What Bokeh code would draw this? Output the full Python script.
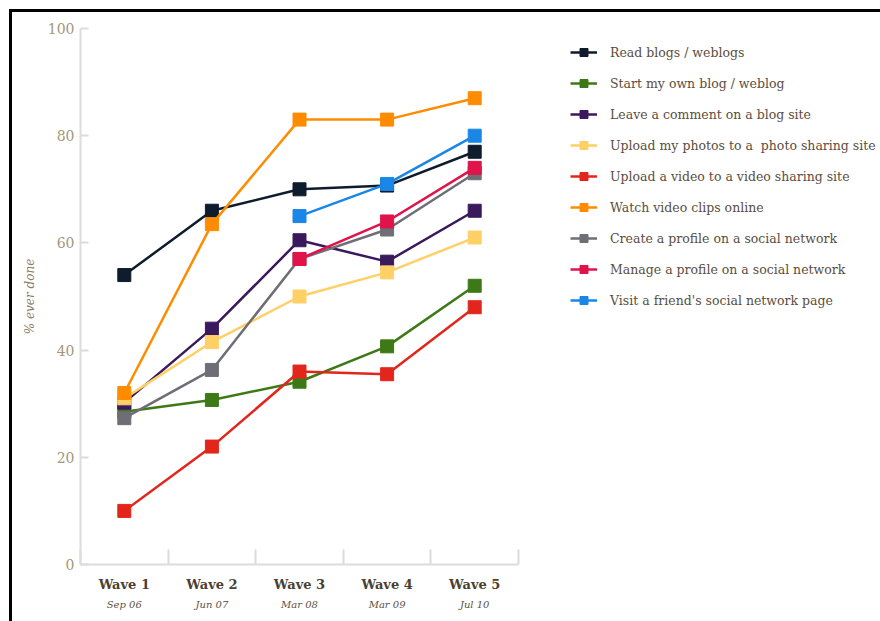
import math
from bokeh.plotting import figure
from bokeh.models import Legend, LegendItem, LinearAxis, FixedTicker, Range1d
from bokeh.embed import file_html
from bokeh.resources import INLINE

waves = ["Wave 1", "Wave 2", "Wave 3", "Wave 4", "Wave 5"]
dates = ["Sep 06", "Jun 07", "Mar 08", "Mar 09", "Jul 10"]
x_pos = [1, 2, 3, 4, 5]
nan = float("nan")

series_names = [
    "Read blogs / weblogs",
    "Start my own blog / weblog",
    "Leave a comment on a blog site",
    "Upload my photos to a  photo sharing site",
    "Upload a video to a video sharing site",
    "Watch video clips online",
    "Create a profile on a social network",
    "Manage a profile on a social network",
    "Visit a friend's social network page",
]
read_blogs = [54, 66, 70, 70.7, 77]
start_blog = [28.5, 30.7, 34.1, 40.7, 52]
leave_comment = [30.2, 44, 60.5, 56.5, 66]
upload_photos = [31, 41.5, 50, 54.5, 61]
upload_video = [10, 22, 36, 35.5, 48]
watch_video = [32, 63.5, 83, 83, 87]
create_profile = [27.3, 36.3, 57, 62.5, 73]
manage_profile = [nan, nan, 57, 64, 74]
visit_friend = [nan, nan, 65, 71, 80]
series_values = [read_blogs, start_blog, leave_comment, upload_photos, upload_video,
                 watch_video, create_profile, manage_profile, visit_friend]
colors = ["#0e1c2e", "#3d7a17", "#3a1a5c", "#ffd066", "#e3261c",
          "#ff8c00", "#6e6e76", "#e0134b", "#1a86e6"]

y_ticks = [0, 20, 40, 60, 80, 100]
boundaries = [0.5, 1.5, 2.5, 3.5, 4.5, 5.5]

FONT = "DejaVu Serif"
TXT = "#5a4e3e"

p = figure(frame_width=438, frame_height=536, output_backend="svg", toolbar_location=None,
           x_range=Range1d(0.5, 5.5), y_range=Range1d(0, 100),
           min_border_left=68, min_border_top=16, min_border_right=362, min_border_bottom=57)
p.margin = (9, 0, 0, 9)
p.styles = {"border-top": "3px solid black", "border-left": "3px solid black"}
p.outline_line_color = None
p.xgrid.visible = False
p.ygrid.visible = False

items = []
for name, vals, col in zip(series_names, series_values, colors):
    r1 = p.line(x_pos, vals, line_color=col, line_width=2.5)
    r2 = p.scatter(x_pos, vals, marker="square", size=13, fill_color=col, line_color=col)
    items.append(LegendItem(label=name, renderers=[r1, r2]))

# y axis
ya = p.yaxis[0]
ya.ticker = FixedTicker(ticks=y_ticks)
ya.axis_line_color = "#dcdcdc"
ya.axis_line_width = 2
ya.major_tick_line_color = "#dcdcdc"
ya.major_tick_line_width = 2
ya.major_tick_in = 8
ya.major_tick_out = 0
ya.minor_tick_line_color = None
ya.major_label_text_font = FONT
ya.major_label_text_font_size = "14px"
ya.major_label_text_color = "#a39679"
ya.major_label_standoff = 6
ya.axis_label = "% ever done"
ya.axis_label_text_font = FONT
ya.axis_label_text_font_style = "italic"
ya.axis_label_text_font_size = "12px"
ya.axis_label_text_color = "#8c7c62"
ya.axis_label_standoff = 8

# main x axis: boundary ticks
xa = p.xaxis[0]
xa.ticker = FixedTicker(ticks=boundaries)
xa.major_label_overrides = {b: "" for b in boundaries}
xa.major_label_text_font_size = "0px"
xa.major_label_standoff = 0
xa.axis_line_color = "#dcdcdc"
xa.axis_line_width = 2
xa.major_tick_line_color = "#dcdcdc"
xa.major_tick_line_width = 2
xa.major_tick_in = 15
xa.major_tick_out = 0
xa.minor_tick_line_color = None

# wave names axis
wa = LinearAxis(ticker=FixedTicker(ticks=x_pos),
                major_label_overrides={x: w for x, w in zip(x_pos, waves)})
wa.axis_line_color = None
wa.major_tick_line_color = None
wa.minor_tick_line_color = None
wa.major_label_text_font = FONT
wa.major_label_text_font_style = "bold"
wa.major_label_text_font_size = "13px"
wa.major_label_text_color = "#4a4032"
wa.major_label_standoff = 6
p.add_layout(wa, "below")

# dates axis
da = LinearAxis(ticker=FixedTicker(ticks=x_pos),
                major_label_overrides={x: d for x, d in zip(x_pos, dates)})
da.axis_line_color = None
da.major_tick_line_color = None
da.minor_tick_line_color = None
da.major_label_text_font = FONT
da.major_label_text_font_style = "italic"
da.major_label_text_font_size = "10px"
da.major_label_text_color = "#5e5140"
da.major_label_standoff = -2
p.add_layout(da, "below")

legend = Legend(items=items, location=(52, 254), margin=0, padding=0,
                glyph_width=27, glyph_height=20, label_height=20, spacing=11,
                label_standoff=13, border_line_color=None, background_fill_alpha=0,
                label_text_font=FONT, label_text_font_size="12.5px", label_text_color=TXT)
p.add_layout(legend, "right")

open("out.html", "w").write(file_html(p, INLINE))
